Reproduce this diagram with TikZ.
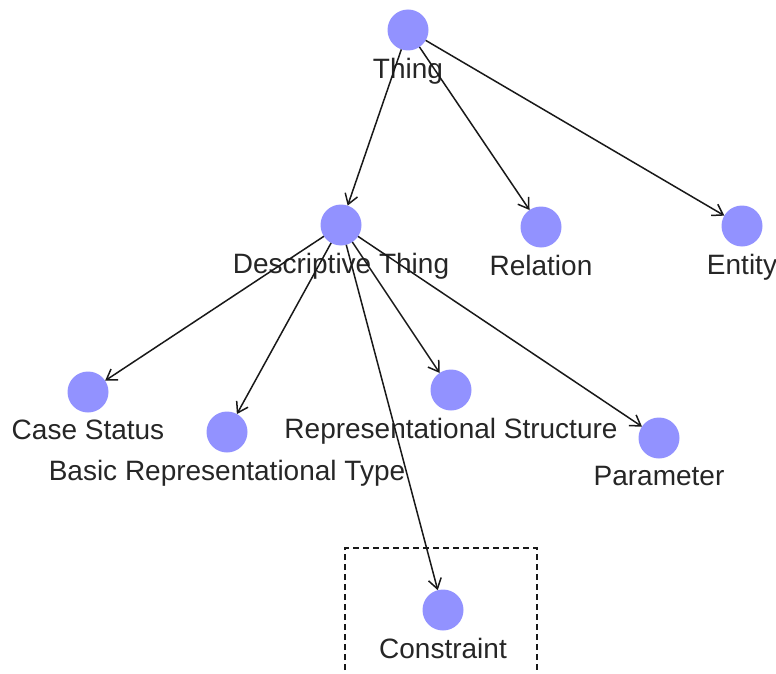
\documentclass[tikz,border=0pt]{standalone}
\usepackage{fontspec}
\setmainfont{Liberation Sans}
\usetikzlibrary{positioning, arrows.meta}
\definecolor{nodeblue}{RGB}{146,146,255}

\begin{document}
\begin{tikzpicture}[x=1pt, y=-1pt, on grid,
        concept/.style={circle, fill=nodeblue, minimum size=41pt, inner sep=0pt, outer sep=0pt},
        every label/.style={inner sep=2pt, text=black!85, font=\fontsize{28}{30}\selectfont},
        label distance=5.5pt,
        isa/.style={draw=black!90, line width=1.5pt, -{Straight Barb[length=10pt, width=13pt]}}]
        \useasboundingbox (0,0) rectangle (776,674);

        \node[concept, label={[name=thinglbl]below:Thing}] (thing) at (408,30) {};
        \node[concept, label={[name=desclbl]below:Descriptive Thing}] (desc) [below left=195pt and 67pt of thing] {};
        \node[concept, label={[name=rellbl]below:Relation}] (relation) [below right=197pt and 133pt of thing] {};
        \node[concept, label={[name=entlbl]below:Entity}] (entity) [below right=196pt and 334pt of thing] {};

        \node[concept, label={[name=caselbl]below:Case Status}] (casestatus) [below left=167pt and 253pt of desc] {};
        \node[concept, label={[name=basiclbl]below:Basic Representational Type}] (basictype) [below left=207pt and 114pt of desc] {};
        \node[concept, label={[name=structlbl]below:Representational Structure}] (repstruct) [below right=165pt and 110pt of desc] {};
        \node[concept, label={[name=paramlbl]below:Parameter}] (parameter) [below right=213pt and 318pt of desc] {};
        \node[concept, label={[name=conslbl]below:Constraint}] (constraint) [below right=385pt and 102pt of desc] {};

        % dashed frame round Constraint
        \draw[black!90, line width=1.4pt, dash pattern=on 6pt off 4pt] (345,690) |- (537,548) -- (537,690);

        \foreach \i/\j in {thing/desc, thing/relation, thing/entity} {
                \draw[isa] (\i) -- (\j);
        }
        \foreach \j in {casestatus, basictype, repstruct, parameter, constraint} {
                \draw[isa] (desc) -- (\j);
        }
\end{tikzpicture}
\end{document}
